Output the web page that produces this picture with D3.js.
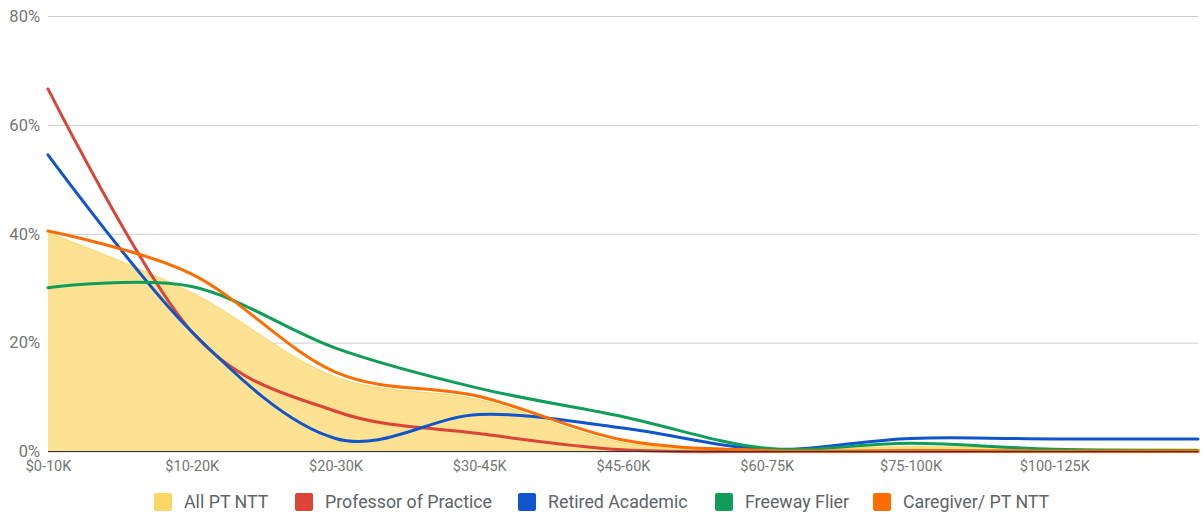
<!DOCTYPE html>
<html>
<head>
<meta charset="utf-8">
<script src="https://cdn.jsdelivr.net/npm/d3@7"></script>
<style>
  html, body { margin: 0; padding: 0; background: #fff; }
  svg { display: block; font-family: Roboto, "Noto Sans", sans-serif; }
</style>
</head>
<body>
<svg id="chart" width="1204" height="514"></svg>
<script>
// Income brackets (the last bracket carries no drawn label)
const categories = ["$0-10K", "$10-20K", "$20-30K", "$30-45K", "$45-60K", "$60-75K", "$75-100K", "$100-125K", "$125K+"];
const shownLabels = ["$0-10K", "$10-20K", "$20-30K", "$30-45K", "$45-60K", "$60-75K", "$75-100K", "$100-125K"];

// Share of respondents (%) per income bracket
const allPtNtt          = [40.2, 29.2, 13.7, 9.5, 1.6, 0.3, 0.9, 0.5, 0.5];
const professorPractice = [66.6, 22.0, 7.4, 3.3, 0.3, 0.0, 0.0, 0.0, 0.0];
const retiredAcademic   = [54.5, 22.0, 2.4, 6.8, 4.3, 0.4, 2.4, 2.3, 2.3];
const freewayFlier      = [30.1, 30.3, 19.0, 11.6, 6.4, 0.6, 1.5, 0.4, 0.2];
const caregiverPtNtt    = [40.5, 32.6, 14.6, 10.1, 2.1, 0.2, 0.2, 0.1, 0.1];

const yTicks = [0, 20, 40, 60, 80];

const seriesNames = ["All PT NTT", "Professor of Practice", "Retired Academic", "Freeway Flier", "Caregiver/ PT NTT"];
const seriesColors = ["#fdd663", "#db4437", "#1155cc", "#0f9d58", "#ff6d00"];

const svg = d3.select("#chart");

const x = d3.scalePoint().domain(categories).range([48, 1198]);
const y = d3.scaleLinear().domain([0, 80]).range([451.5, 16]);

// Horizontal gridlines and y labels
const yAxis = d3.axisLeft(y).tickValues(yTicks).tickSize(-(1198 - 48)).tickFormat(d => d + "%").tickPadding(8);
const gy = svg.append("g").attr("transform", "translate(48,0)").call(yAxis);
gy.select(".domain").remove();
gy.selectAll(".tick line").attr("stroke", "#cccccc").attr("stroke-width", 1);
gy.selectAll(".tick text").attr("fill", "#757575").attr("font-size", 16.5).attr("font-family", "Roboto, sans-serif");

const curve = d3.curveCardinal.tension(0);

// Area series
const area = d3.area()
  .x((d, i) => x(categories[i]))
  .y0(y(0))
  .y1(d => y(d))
  .curve(curve);

const line = d3.line()
  .x((d, i) => x(categories[i]))
  .y(d => y(d))
  .curve(curve);

svg.append("path")
  .datum(allPtNtt)
  .attr("d", area)
  .attr("fill", "#fde293");
svg.append("path")
  .datum(allPtNtt)
  .attr("d", line)
  .attr("fill", "none")
  .attr("stroke", "#fdd663")
  .attr("stroke-width", 1);

// Line series
const lineSeries = [professorPractice, retiredAcademic, freewayFlier, caregiverPtNtt];
lineSeries.forEach((vals, k) => {
  svg.append("path")
    .datum(vals)
    .attr("d", line)
    .attr("fill", "none")
    .attr("stroke", seriesColors[k + 1])
    .attr("stroke-width", 3)
    .attr("stroke-linejoin", "round")
    .attr("stroke-linecap", "round");
});

// Baseline
svg.append("line")
  .attr("x1", 48).attr("x2", 1198)
  .attr("y1", y(0)).attr("y2", y(0))
  .attr("stroke", "#333333").attr("stroke-width", 1);

// X labels
const xAxis = d3.axisBottom(x).tickValues(shownLabels).tickSize(0).tickPadding(9.5);
const gx = svg.append("g").attr("transform", `translate(0,${y(0)})`).call(xAxis);
gx.select(".domain").remove();
gx.selectAll(".tick text").attr("fill", "#757575").attr("font-size", 14.5).attr("font-family", "Roboto, sans-serif");

// Legend
const legendX = [154, 295, 518, 715, 873];
const legend = svg.append("g");
seriesNames.forEach((name, i) => {
  const g = legend.append("g").attr("transform", `translate(${legendX[i]},502)`);
  g.append("rect").attr("x", 0).attr("y", -9).attr("width", 18).attr("height", 18).attr("rx", 2)
    .attr("fill", seriesColors[i]);
  g.append("text").attr("x", 30).attr("y", 0).attr("dy", "0.35em")
    .attr("fill", "#5f6368").attr("font-size", 17.8).attr("font-family", "Roboto, sans-serif")
    .text(name);
});
</script>
</body>
</html>
